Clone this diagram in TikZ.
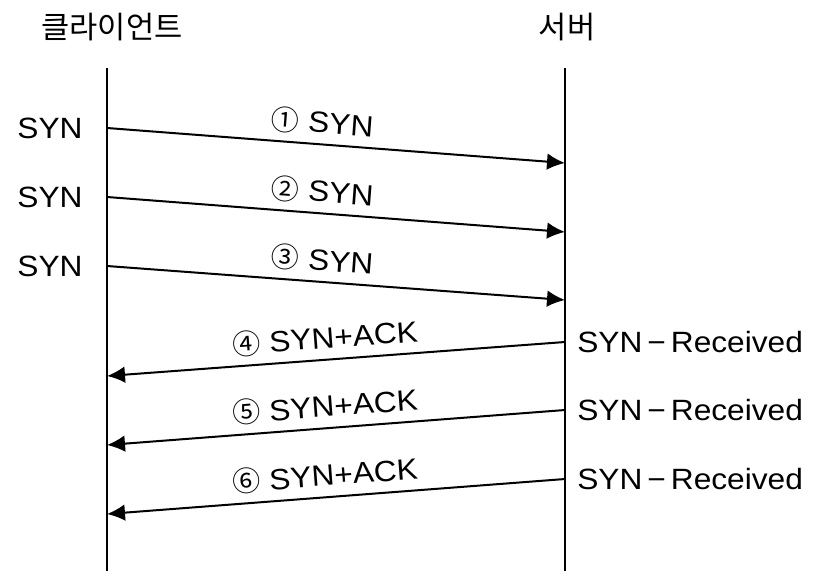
\documentclass[tikz,border=0pt]{standalone}
\usepackage{fontspec}
\setmainfont[FakeStretch=1.08]{Liberation Sans}
\newfontfamily\kofont{Noto Sans CJK KR}
\usetikzlibrary{arrows.meta}
\newlength{\du}
\setlength{\du}{0.75pt}
\definecolor{dialinecolor}{rgb}{0.000000, 0.000000, 0.000000}
\newcommand{\circnum}[1]{{\kofont\fontsize{21}{21}\selectfont #1}}
\tikzset{
  lifeline/.style={draw=dialinecolor, line width=2.6\du},
  msg/.style={draw=dialinecolor, line width=2\du, -{Latex[length=13.5pt,width=12.5pt]}},
  msglabel/.style={sloped, above=8\du, inner sep=0pt, font=\fontsize{22}{22}\selectfont},
  sidelabel/.style={inner sep=0pt, font=\fontsize{22}{22}\selectfont},
  headlabel/.style={inner sep=0pt, font=\kofont\fontsize{23}{23}\selectfont},
}

\begin{document}
\begin{tikzpicture}[x=\du,y=-\du]
\useasboundingbox (0,0) rectangle (823,571);
% heads
\node[headlabel] (client) at (112,27) {클라이언트};
\node[headlabel] (server) at (567,27) {서버};
\coordinate (clienttop) at (107,68);
\coordinate (clientbot) at (107,571);
\coordinate (servertop) at (565,68);
\coordinate (serverbot) at (565,571);
\draw[lifeline] (clienttop) -- (clientbot);
\draw[lifeline] (servertop) -- (serverbot);
% points on the lines
\coordinate (c1) at (107,128);
\coordinate (s1) at (565,163);
\coordinate (c2) at (107,197);
\coordinate (s2) at (565,232);
\coordinate (c3) at (107,266);
\coordinate (s3) at (565,300);
\coordinate (s4) at (565,342);
\coordinate (c4) at (107,376);
\coordinate (s5) at (565,410);
\coordinate (c5) at (107,445);
\coordinate (s6) at (565,479);
\coordinate (c6) at (107,514);
% client side
\node[sidelabel] (syn1) at (50,128) {SYN};
\node[sidelabel] (syn2) at (50,197) {SYN};
\node[sidelabel] (syn3) at (50,266) {SYN};
% server side
\node[sidelabel, anchor=west] (rcv4) at (577,342) {SYN\kern5\du−\kern5\du Received};
\node[sidelabel, anchor=west] (rcv5) at (577,410) {SYN\kern5\du−\kern5\du Received};
\node[sidelabel, anchor=west] (rcv6) at (577,479) {SYN\kern5\du−\kern5\du Received};
% messages
\draw[msg] (c1) -- (s1) node[msglabel, pos=0.467] (m1) {\circnum{①} SYN};
\draw[msg] (c2) -- (s2) node[msglabel, pos=0.467] (m2) {\circnum{②} SYN};
\draw[msg] (c3) -- (s3) node[msglabel, pos=0.467] (m3) {\circnum{③} SYN};
\draw[msg] (s4) -- (c4) node[msglabel, pos=0.52] (m4) {\circnum{④} SYN+ACK};
\draw[msg] (s5) -- (c5) node[msglabel, pos=0.52] (m5) {\circnum{⑤} SYN+ACK};
\draw[msg] (s6) -- (c6) node[msglabel, pos=0.52] (m6) {\circnum{⑥} SYN+ACK};
\end{tikzpicture}
\end{document}
